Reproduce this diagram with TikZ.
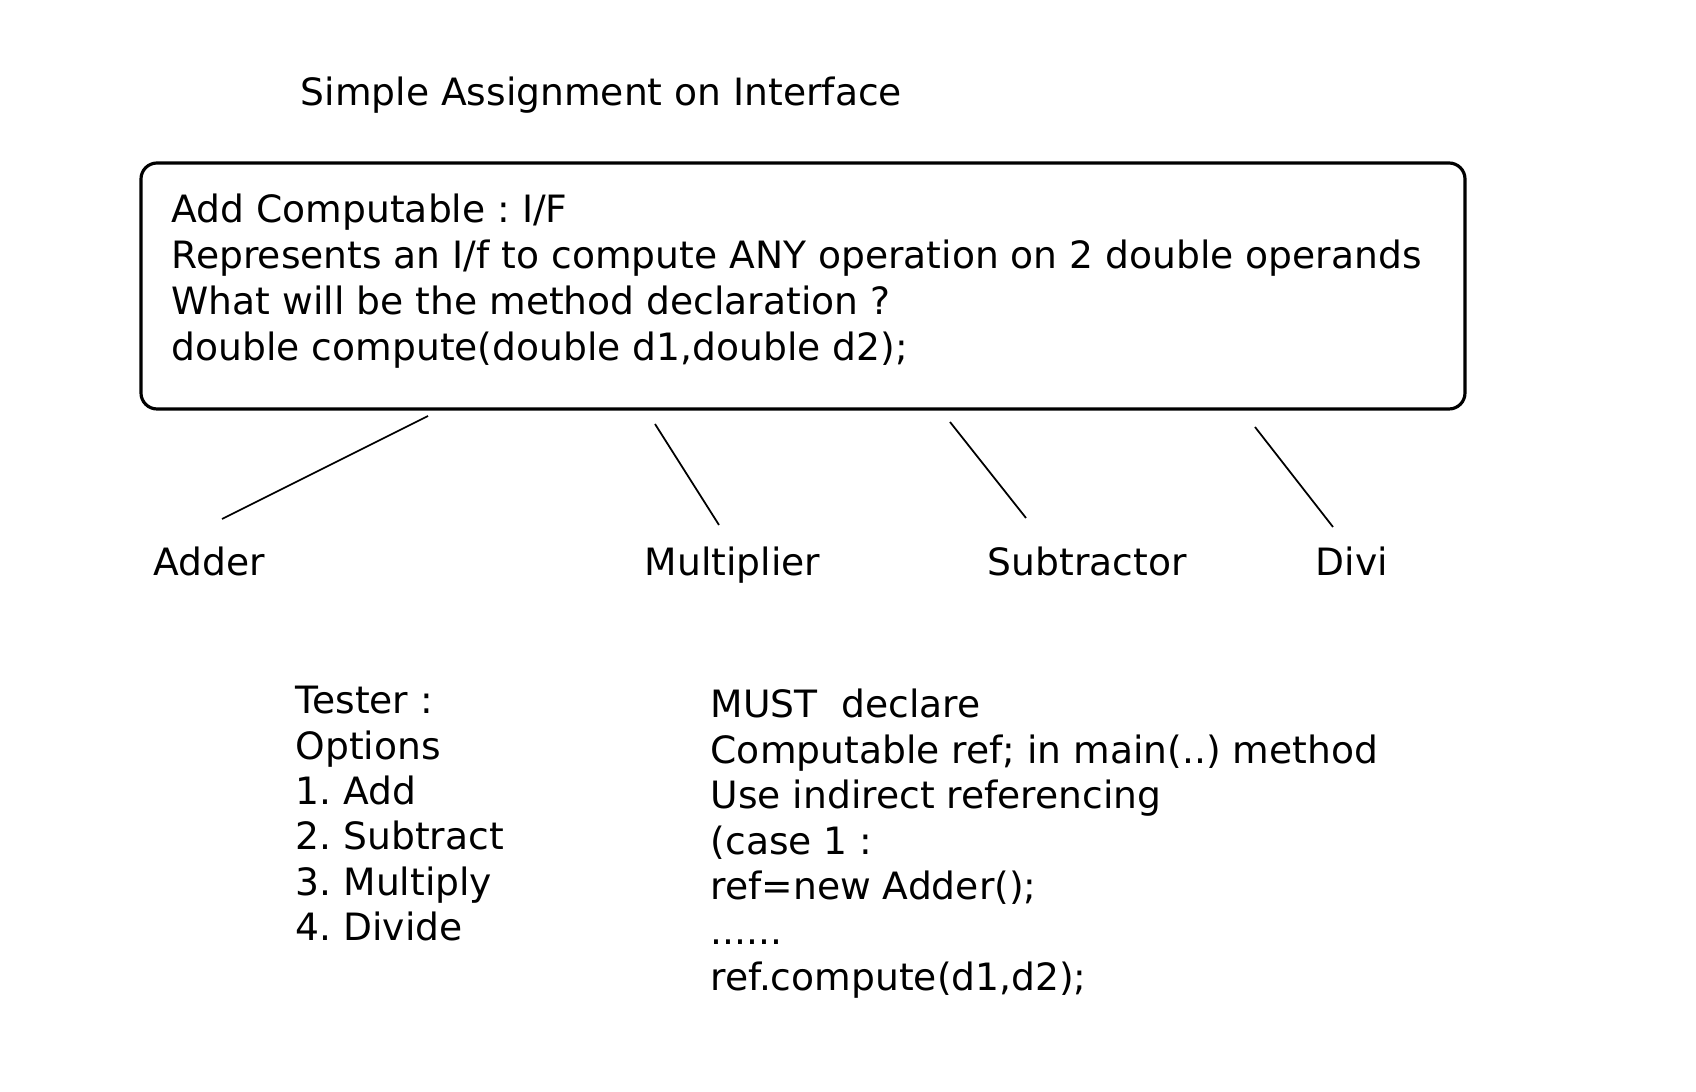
\documentclass[tikz,border=0pt]{standalone}
\usepackage{fontspec}
\setmainfont{DejaVu Sans}
\usetikzlibrary{positioning}
\tikzstyle{textline}=[anchor=base west
,inner sep=0pt
,font=\fontsize{10.7}{13}\selectfont\frenchspacing
]
\tikzstyle{iface box} = [draw, line width=0.9pt, rounded corners=1.6mm]
\tikzstyle{edge} = [draw,line width=0.5pt,-]

\begin{document}
\begin{tikzpicture}[x=0.01cm,y=-0.01cm]
    \useasboundingbox (0,0) rectangle (1696,1092);
    % Title and the interface box
    \node[textline] (title) at (300,106) {Simple Assignment on Interface};
    \path[iface box] (141,163) rectangle (1465,409);
    \foreach \txt [count=\i from 0] in {Add Computable : I/F,
        Represents an I/f to compute ANY operation on 2 double operands,
        What will be the method declaration ?,
        {double compute(double d1,double d2);}}
        \node[textline] (decl\i) at (171,223+45.7*\i) {\txt};

    % The implementing classes
    \foreach \pos/\name in {{(153,576)/Adder}, {(644,576)/Multiplier}, {(987,576)/Subtractor}, {(1315,576)/Divi}}
        \node[textline] (\name) at \pos {\name};

    % Connect box with classes
    \coordinate (Adder-top) at (428,416);
    \coordinate (Adder-end) at (222,519);
    \coordinate (Multiplier-top) at (655,424);
    \coordinate (Multiplier-end) at (719,525);
    \coordinate (Subtractor-top) at (950,422);
    \coordinate (Subtractor-end) at (1026,518);
    \coordinate (Divi-top) at (1255,427);
    \coordinate (Divi-end) at (1333,527);
    \foreach \name in {Adder, Multiplier, Subtractor, Divi}
        \path[edge] (\name-top) -- (\name-end);

    % Tester notes
    \foreach \txt [count=\i from 0] in {Tester :, Options, 1. Add, 2. Subtract, 3. Multiply, 4. Divide}
        \node[textline] (tester\i) at (295,714+45.3*\i) {\txt};
    \node[textline] (note0) at (710,718) {MUST~~declare};
    \node[textline] (note1) at (710,763.4) {Computable ref; in main(..) method};
    \node[textline] (note2) at (710,808.8) {Use indirect referencing};
    \node[textline] (note3) at (710,854.2) {(case 1 :};
    \node[textline] (note4) at (710,899.6) {ref=new Adder();};
    \node[textline] (note5) at (710,945) {......};
    \node[textline] (note6) at (710,990.4) {ref.compute(d1,d2);};
\end{tikzpicture}
\end{document}
